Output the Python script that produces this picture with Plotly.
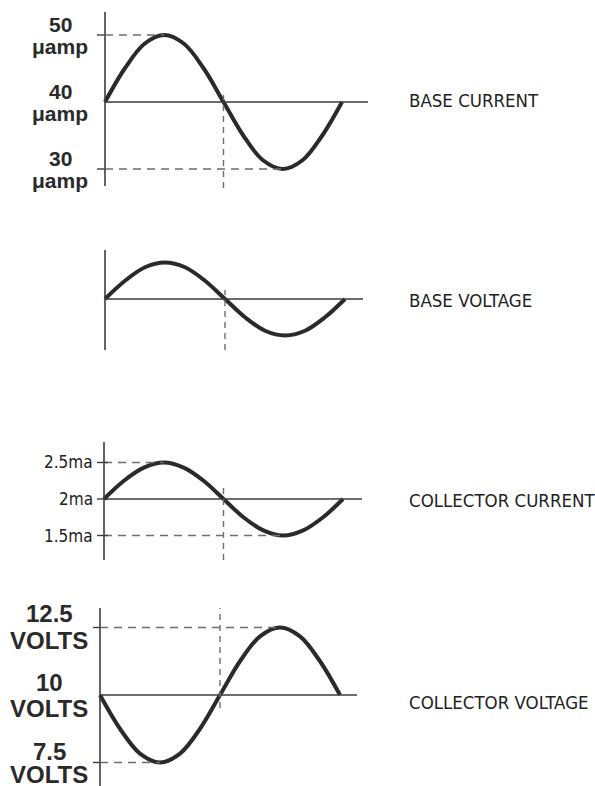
import plotly.graph_objects as go

# ---------------------------------------------------------------------------
# Waveform data: phase (degrees) and the value of each signal at that phase
# ---------------------------------------------------------------------------
phase_deg = [0, 30, 60, 90, 120, 150, 180, 210, 240, 270, 300, 330, 360]

base_current_uA = [40, 45, 48.7, 50, 48.7, 45, 40, 35, 31.3, 30, 31.3, 35, 40]
base_voltage_rel = [0, 0.5, 0.87, 1.0, 0.87, 0.5, 0, -0.5, -0.87, -1.0, -0.87, -0.5, 0]
collector_current_mA = [2.0, 2.25, 2.43, 2.5, 2.43, 2.25, 2.0, 1.75, 1.57, 1.5, 1.57, 1.75, 2.0]
collector_voltage_V = [10, 8.75, 7.83, 7.5, 7.83, 8.75, 10, 11.25, 12.17, 12.5, 12.17, 11.25, 10]

panel_names = ["BASE CURRENT", "BASE VOLTAGE", "COLLECTOR CURRENT", "COLLECTOR VOLTAGE"]

# level labels: value, number text and unit text
base_current_levels = [50, 40, 30]
base_current_numbers = ["50", "40", "30"]
base_current_unit = "μamp"
collector_current_levels = [2.5, 2.0, 1.5]
collector_current_labels = ["2.5ma", "2ma", "1.5ma"]
collector_voltage_levels = [12.5, 10, 7.5]
collector_voltage_numbers = ["12.5", "10", "7.5"]
collector_voltage_unit = "VOLTS"

# ---------------------------------------------------------------------------
# Page geometry and styling
# ---------------------------------------------------------------------------
W, H = 595, 786

INK = "#2a2a2a"
AXIS_INK = "#3c3c3c"
DASH_INK = "#6e6e6e"
BOLD_FONT = "Liberation Sans, Arial, sans-serif"
NARROW_FONT = "DejaVu Sans Condensed, DejaVu Sans, sans-serif"


def condensed(text):
    return '<span style="font-stretch:condensed">' + text + "</span>"


# per panel layout in pixels:
# origin_px: x of the vertical axis (phase 0); end_px: x of phase 360
# line_end_px: right end of the reference line; base_py: y of the mid value
# unit_py: pixels per value unit; axis top/bottom in pixels
panels = [
    dict(values=base_current_uA, mid=40, origin_px=105, end_px=342, line_end_px=368,
         base_py=102, unit_py=6.7, top_py=12, bottom_py=186,
         vdash=(95, 188), levels=base_current_levels, tick=(-8, 0), name_py=100),
    dict(values=base_voltage_rel, mid=0, origin_px=105, end_px=345, line_end_px=363,
         base_py=299, unit_py=36.5, top_py=250, bottom_py=350,
         vdash=(290, 350), levels=[], tick=None, name_py=300),
    dict(values=collector_current_mA, mid=2.0, origin_px=104, end_px=343, line_end_px=362,
         base_py=499, unit_py=73, top_py=442, bottom_py=560,
         vdash=(483, 560), levels=collector_current_levels, tick=(-7, 4), name_py=500),
    dict(values=collector_voltage_V, mid=10, origin_px=100, end_px=340, line_end_px=357,
         base_py=695, unit_py=27, top_py=608, bottom_py=790,
         vdash=(608, 708), levels=collector_voltage_levels, tick=(-7, 0), name_py=702),
]

fig = go.Figure()
shapes = []
annotations = []
layout_axes = {}

DOM_LEFT, DOM_RIGHT = 80, 380  # horizontal pixel span shared by every panel's axes

for i, p in enumerate(panels):
    k = "" if i == 0 else str(i + 1)
    xa, ya = "x" + k, "y" + k
    px_per_deg = (p["end_px"] - p["origin_px"]) / 360.0
    x_lo = (DOM_LEFT - p["origin_px"]) / px_per_deg
    x_hi = (DOM_RIGHT - p["origin_px"]) / px_per_deg

    dom_top_py, dom_bot_py = p["top_py"] - 6, min(p["bottom_py"] + 6, H)
    y_hi = p["mid"] + (p["base_py"] - dom_top_py) / p["unit_py"]
    y_lo = p["mid"] - (dom_bot_py - p["base_py"]) / p["unit_py"]
    y_axis_top = p["mid"] + (p["base_py"] - p["top_py"]) / p["unit_py"]
    y_axis_bot = p["mid"] - (p["bottom_py"] - p["base_py"]) / p["unit_py"]

    common = dict(visible=False, fixedrange=True, showgrid=False, zeroline=False)
    layout_axes["xaxis" + k] = dict(
        common, range=[x_lo, x_hi],
        domain=[DOM_LEFT / W, DOM_RIGHT / W], anchor=ya)
    layout_axes["yaxis" + k] = dict(
        common, range=[y_lo, y_hi],
        domain=[1 - dom_bot_py / H, 1 - dom_top_py / H], anchor=xa)

    line_end_deg = (p["line_end_px"] - p["origin_px"]) / px_per_deg

    # vertical axis and horizontal reference line
    shapes.append(dict(type="line", xref=xa, yref=ya, x0=0, x1=0,
                       y0=y_axis_bot, y1=y_axis_top,
                       line=dict(color=AXIS_INK, width=1.6)))
    shapes.append(dict(type="line", xref=xa, yref=ya, x0=0, x1=line_end_deg,
                       y0=p["mid"], y1=p["mid"],
                       line=dict(color=AXIS_INK, width=1.6)))

    # vertical dashed marker at half period
    v0 = p["mid"] - (p["vdash"][1] - p["base_py"]) / p["unit_py"]
    v1 = p["mid"] + (p["base_py"] - p["vdash"][0]) / p["unit_py"]
    shapes.append(dict(type="line", xref=xa, yref=ya, x0=180, x1=180, y0=v0, y1=v1,
                       line=dict(color=DASH_INK, width=1.4, dash="6px,5px")))

    vals = p["values"]
    if p["levels"]:
        # dashed guides from the axis to the positive and negative peaks
        hi_idx = vals.index(max(vals))
        lo_idx = vals.index(min(vals))
        for idx in (hi_idx, lo_idx):
            shapes.append(dict(type="line", xref=xa, yref=ya,
                               x0=0, x1=phase_deg[idx], y0=vals[idx], y1=vals[idx],
                               line=dict(color=DASH_INK, width=1.4, dash="8px,6px")))
        # small tick marks on the axis at each labelled level
        t0 = p["tick"][0] / px_per_deg
        t1 = p["tick"][1] / px_per_deg
        tick_levels = p["levels"] if i == 2 else [vals[hi_idx], vals[lo_idx]]
        for lv in tick_levels:
            shapes.append(dict(type="line", xref=xa, yref=ya,
                               x0=t0, x1=t1 if t1 > 0 else 0, y0=lv, y1=lv,
                               line=dict(color=AXIS_INK, width=1.4)))

    # the waveform
    fig.add_trace(go.Scatter(
        x=phase_deg, y=vals, mode="lines", xaxis=xa, yaxis=ya,
        line=dict(color=INK, width=4, shape="spline", smoothing=1.0),
        hoverinfo="skip", showlegend=False))

    # signal name at the right
    annotations.append(dict(
        xref="paper", yref="paper", x=407 / W, y=1 - p["name_py"] / H,
        text=condensed(panel_names[i]), xanchor="left", yanchor="middle", showarrow=False,
        font=dict(family=NARROW_FONT, size=18.5, color="#222222")))


def stacked_label(yref, level, number, unit, cx, size, up, down):
    """Number above and unit below the given level, centred on cx."""
    bold = dict(family=BOLD_FONT, size=size, color=INK, weight="bold")
    annotations.append(dict(xref="paper", yref=yref, x=cx / W, y=level, text=number,
                            xanchor="center", yanchor="middle", yshift=up,
                            showarrow=False, font=bold))
    annotations.append(dict(xref="paper", yref=yref, x=cx / W, y=level, text=unit,
                            xanchor="center", yanchor="middle", yshift=-down,
                            showarrow=False, font=bold))


for lv, num in zip(base_current_levels, base_current_numbers):
    stacked_label("y", lv, num, base_current_unit, 60, 21, 11, 11)

for lv, txt in zip(collector_current_levels, collector_current_labels):
    annotations.append(dict(
        xref="paper", yref="y3", x=95 / W, y=lv, text=condensed(txt),
        xanchor="right", yanchor="middle", showarrow=False,
        font=dict(family=NARROW_FONT, size=17, color="#222222")))

volt_offsets = [(14, 13), (13, 13), (11, 12)]
for lv, num, (up, down) in zip(collector_voltage_levels, collector_voltage_numbers, volt_offsets):
    stacked_label("y4", lv, num, collector_voltage_unit, 49, 24, up, down)

fig.update_layout(
    width=W, height=H,
    margin=dict(l=0, r=0, t=0, b=0),
    paper_bgcolor="white", plot_bgcolor="rgba(0,0,0,0)",
    shapes=shapes, annotations=annotations,
    showlegend=False,
    **layout_axes,
)

fig.write_html("out.html", config={"displayModeBar": False})
